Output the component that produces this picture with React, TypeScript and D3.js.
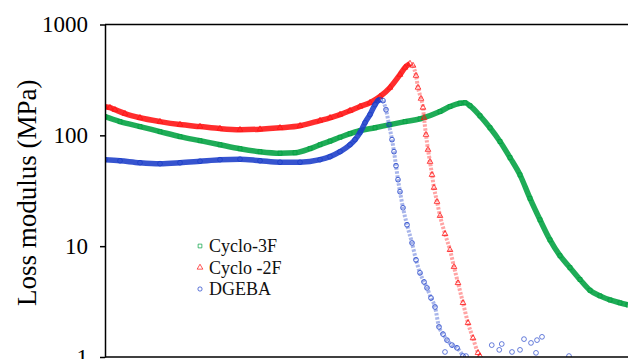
import { useCallback, useEffect, useRef } from 'react';

import {
  axisLeft,
  curveMonotoneX,
  format,
  line,
  scaleLinear,
  scaleLog,
  select,
  symbol,
  symbolCircle,
  symbolSquare,
  symbolTriangle,
} from 'd3';

type Point = [number, number]; // [temperature °C, loss modulus MPa]

const cyclo3F: Point[] = [
  [30, 147.5], [36, 133], [44, 120], [52, 108], [60, 97.3], [68, 89.5],
  [76, 82.3], [84, 75.8], [92, 71.2], [100, 69], [106, 69.7], [112, 75.8],
  [116, 82.3], [120, 88.6], [124, 96], [128, 103.5], [132, 110], [138, 117],
  [144, 125], [150, 133], [156, 141], [164, 164], [168, 182], [172, 195],
  [174, 197], [176, 185], [180, 150], [184, 117], [188, 88], [192, 63],
  [196, 44], [200, 27], [204, 17.3], [208, 11.4], [212, 8.2], [216, 6.4],
  [220, 5.0], [224, 4.0], [228, 3.56], [232, 3.27], [236, 3.08], [239.2, 2.95],
];

const cyclo2F: Point[] = [
  [30, 181.6], [32, 177.8], [34, 170.5], [38, 157], [44, 144], [52, 133],
  [60, 125], [68, 120], [76, 115], [84, 112.5], [92, 113.7], [100, 117],
  [108, 122], [116, 136], [120, 144], [124, 154], [128, 167], [132, 182],
  [136, 197], [140, 224], [144, 270], [148, 353], [150, 409], [152, 444],
  [153.2, 426], [154.4, 346], [155.2, 270], [156.4, 214.5], [157.2, 178],
  [157.6, 144], [158.4, 101.4], [159.2, 74.2], [160, 57.8], [160.8, 44.1],
  [161.6, 33.7], [162.8, 25.2], [164, 18.8], [166, 12.9], [168, 9.26],
  [169.6, 6.51], [171.2, 4.66], [173.2, 3.08], [175.2, 2.03], [177.2, 1.48],
  [179.2, 1.09], [180, 1.02],
];

const dgeba: Point[] = [
  [30, 60.3], [36, 59], [44, 56.6], [52, 55.5], [60, 56.6], [68, 58.4],
  [76, 60.3], [84, 60.9], [92, 59], [100, 57.2], [108, 57.2], [116, 60.3],
  [120, 64.2], [124, 71.2], [128, 82.3], [130, 91.4], [132, 105.7],
  [134, 130], [136, 154], [138, 189], [139.2, 205.7], [140, 210],
  [141.2, 205.7], [142.4, 170.5], [143.6, 124.8], [144.8, 91.4],
  [145.6, 71.2], [146.4, 53.2], [147.2, 39.8], [148, 31.0], [149.2, 22.2],
  [150.8, 15.6], [152.8, 10.7], [154.4, 7.52], [156, 5.74], [157.6, 4.76],
  [158.8, 4.2], [160.4, 3.41], [162, 2.83], [163.6, 1.87], [165.2, 1.61],
  [166.8, 1.42], [168.8, 1.28], [170.8, 1.21], [173.2, 1.02],
];

// DGEBA noise near the 1 MPa floor
const dgebaScatter: Point[] = [
  [166, 1.11], [174.4, 1.02], [184.7, 1.28], [188.7, 1.31], [187.7, 1.16],
  [192.8, 1.11], [196, 1.16], [197.6, 1.45], [200.4, 1.34], [202.8, 1.42],
  [204.8, 1.52], [202.4, 1.09], [215.6, 1.02],
];

const seriesNames = ['Cyclo-3F', 'Cyclo -2F', 'DGEBA'];
const seriesColors = ['#00a040', '#ff1010', '#1a3cc8'];
// temperature after which the points thin out into separate markers
const sparseFrom = [999, 153, 141];
const yTicks = [1, 10, 100, 1000];

export default function App() {
  const containerRef = useRef<HTMLDivElement>(null);

  const initChart = useCallback(() => {
    const container = containerRef.current;
    if (!container) return;

    const W = 628,
      H = 359;
    const left = 105,
      top = 24.5,
      bottom = 357,
      right = 655;

    const div = select(container);
    div.select('svg').remove();

    const svg = div
      .append('svg')
      .attr('width', W)
      .attr('height', H)
      .style('display', 'block');

    svg.append('rect').attr('width', W).attr('height', H).attr('fill', '#fff');

    const x = scaleLinear().domain([30, 250]).range([left, right]);
    const y = scaleLog().domain([1, 1000]).range([bottom, top]);

    svg
      .append('clipPath')
      .attr('id', 'plot-clip')
      .append('rect')
      .attr('x', left)
      .attr('y', top - 2)
      .attr('width', right - left)
      .attr('height', bottom - top + 2);

    const plot = svg.append('g').attr('clip-path', 'url(#plot-clip)');

    const shapes = [symbolSquare, symbolTriangle, symbolCircle];
    const sizes = [16, 14, 18];
    const allSeries = [cyclo3F, cyclo2F, dgeba];

    const lineGen = line<Point>()
      .x((d) => x(d[0]))
      .y((d) => y(d[1]))
      .curve(curveMonotoneX);

    allSeries.forEach((data, i) => {
      const cut = sparseFrom[i];
      const dense = data.filter((d) => d[0] <= cut);
      const sparse = data.filter((d) => d[0] >= cut);

      // dense runs of markers read as a solid band
      plot
        .append('path')
        .datum(dense)
        .attr('d', lineGen)
        .attr('fill', 'none')
        .attr('stroke', seriesColors[i])
        .attr('stroke-width', 5.5)
        .attr('stroke-opacity', 0.88)
        .attr('stroke-linejoin', 'round');

      if (sparse.length > 1) {
        plot
          .append('path')
          .datum(sparse)
          .attr('d', lineGen)
          .attr('fill', 'none')
          .attr('stroke', seriesColors[i])
          .attr('stroke-width', 4)
          .attr('stroke-opacity', 0.38)
          .attr('stroke-dasharray', '2.5 1.5');
      }

      plot
        .append('g')
        .selectAll('path')
        .data(data)
        .join('path')
        .attr('transform', (d) => `translate(${x(d[0])},${y(d[1])})`)
        .attr('d', symbol(shapes[i], sizes[i]))
        .attr('fill', 'none')
        .attr('stroke', seriesColors[i])
        .attr('stroke-width', 1)
        .attr('stroke-opacity', 0.75);
    });

    plot
      .append('g')
      .selectAll('path')
      .data(dgebaScatter)
      .join('path')
      .attr('transform', (d) => `translate(${x(d[0])},${y(d[1])})`)
      .attr('d', symbol(symbolCircle, 18))
      .attr('fill', 'none')
      .attr('stroke', seriesColors[2])
      .attr('stroke-width', 1)
      .attr('stroke-opacity', 0.65);

    // frame
    [top, bottom].forEach((yy) => {
      svg
        .append('line')
        .attr('x1', left)
        .attr('x2', W)
        .attr('y1', yy)
        .attr('y2', yy)
        .attr('stroke', '#000')
        .attr('stroke-width', 1.5);
    });

    // Y axis
    svg
      .append('g')
      .attr('transform', `translate(${left},0)`)
      .call(
        axisLeft(y)
          .tickValues(yTicks)
          .tickFormat(format('d'))
          .tickSize(5)
          .tickSizeOuter(0)
          .tickPadding(12)
      )
      .call((g) => {
        g.select('.domain').attr('stroke-width', 1.5);
        g.selectAll('.tick line').attr('stroke-width', 1.5);
        g.selectAll('text')
          .attr('font-family', '"Liberation Serif", "Times New Roman", serif')
          .attr('font-size', 23)
          .attr('fill', '#000');
      });

    svg
      .append('text')
      .attr('transform', `translate(36,${(top + bottom) / 2 + 2}) rotate(-90)`)
      .attr('text-anchor', 'middle')
      .attr('font-family', '"Liberation Serif", "Times New Roman", serif')
      .attr('font-size', 27)
      .attr('fill', '#000')
      .text('Loss modulus (MPa)');

    // legend
    const legend = svg.append('g').attr('transform', 'translate(200,246)');
    seriesNames.forEach((name, i) => {
      const row = legend.append('g').attr('transform', `translate(0,${i * 21.5})`);
      row
        .append('path')
        .attr('d', symbol(shapes[i], 14))
        .attr('fill', 'none')
        .attr('stroke', seriesColors[i])
        .attr('stroke-width', 1)
        .attr('stroke-opacity', 0.7);
      row
        .append('text')
        .attr('x', 9)
        .attr('y', 6)
        .attr('font-family', '"Liberation Serif", "Times New Roman", serif')
        .attr('font-size', 18)
        .attr('fill', '#111')
        .text(name);
    });
  }, []);

  const destroyChart = useCallback(() => {
    const container = containerRef.current;
    if (!container) return;
    select(container).select('svg').remove();
  }, []);

  useEffect(() => {
    initChart();
    return destroyChart;
  }, [destroyChart, initChart]);

  return (
    <div
      ref={containerRef}
      style={{ position: 'absolute', left: 0, top: 0, background: '#fff' }}
    />
  );
}
